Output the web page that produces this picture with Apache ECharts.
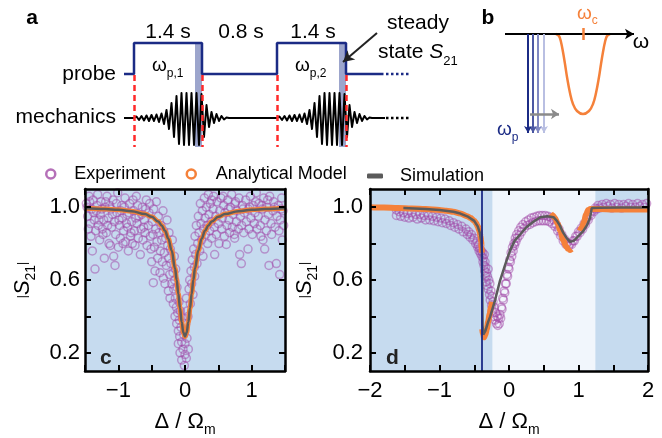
<!DOCTYPE html>
<html>
<head>
<meta charset="utf-8">
<script src="https://cdn.jsdelivr.net/npm/echarts@6/dist/echarts.min.js"></script>
<style>
html, body { margin: 0; padding: 0; background: #fff; }
#chart { width: 662px; height: 438px; }
</style>
</head>
<body>
<div id="chart"></div>
<script>
// ---------- data, panel c ----------
var cExp = [
  [-1.48,1.02],[-1.46,0.95],[-1.45,0.88],[-1.44,1.06],[-1.42,0.91],[-1.41,0.84],[-1.40,0.99],[-1.39,0.76],[-1.38,1.04],[-1.36,0.93],
  [-1.35,0.66],[-1.34,0.87],[-1.33,0.98],[-1.31,1.07],[-1.30,0.90],[-1.28,0.82],[-1.27,0.96],[-1.26,1.03],[-1.24,0.88],[-1.22,0.93],
  [-1.21,0.72],[-1.20,1.00],[-1.18,0.86],[-1.17,1.06],[-1.15,0.94],[-1.14,0.80],[-1.12,0.79],[-1.11,0.99],[-1.10,0.89],[-1.08,1.04],
  [-1.07,0.73],[-1.06,0.92],[-1.05,0.68],[-1.04,0.85],[-1.02,0.97],[-1.01,1.08],[-1.00,0.78],[-0.98,0.90],[-0.97,0.83],[-0.95,1.01],
  [-0.94,0.94],[-0.92,0.87],[-0.90,1.05],[-0.89,0.81],[-0.87,0.96],[-0.86,0.89],[-0.85,0.76],[-0.83,1.02],[-0.82,0.84],[-0.80,0.92],
  [-0.79,0.80],[-0.77,0.98],[-0.76,0.87],[-0.75,0.79],[-0.73,1.06],[-0.72,0.91],[-0.70,0.83],[-0.69,0.95],[-0.67,0.74],[-0.66,0.88],
  [-0.64,1.00],[-0.63,0.82],[-0.61,0.93],[-0.60,0.86],[-0.58,1.04],[-0.57,0.79],[-0.55,0.90],[-0.54,0.97],[-0.52,0.84],[-0.51,0.77],
  [-0.50,0.70],[-1.47,1.00],[-1.43,1.03],[-1.37,0.97],[-1.32,1.01],[-1.25,0.99],[-1.19,1.03],[-1.13,1.01],[-1.09,0.96],[-1.03,1.02],
  [-0.96,0.98],[-0.91,1.00],[-0.84,0.97],[-0.78,1.04],[-0.71,1.01],[-0.65,0.96],[-0.59,0.99],[-0.53,1.02],[-1.29,0.93],[-1.16,0.90],
  [-0.99,0.93],[-0.88,0.91],[-0.74,0.94],[-0.62,0.89],[-1.23,0.85],[-0.93,0.80],[-0.81,0.86],
  [-0.49,0.92],[-0.48,0.85],[-0.475,0.585],[-0.47,0.99],[-0.46,0.78],[-0.45,0.65],[-0.44,0.88],[-0.43,1.03],[-0.42,0.81],[-0.41,0.72],
  [-0.40,0.95],[-0.39,0.86],[-0.375,0.64],[-0.37,0.76],[-0.36,0.90],[-0.35,0.82],[-0.34,0.70],[-0.33,0.98],[-0.325,0.61],[-0.32,0.87],
  [-0.31,0.75],[-0.30,0.58],[-0.29,0.83],[-0.28,0.68],[-0.27,0.93],[-0.26,0.79],[-0.25,0.54],[-0.245,0.72],[-0.24,0.86],[-0.23,0.63],
  [-0.225,0.50],[-0.22,0.77],[-0.21,0.69],[-0.20,0.58],[-0.19,0.82],[-0.18,0.64],[-0.175,0.47],[-0.17,0.55],[-0.16,0.73],[-0.155,0.60],
  [-0.15,0.40],[-0.145,0.50],[-0.14,0.66],[-0.13,0.45],[-0.125,0.36],[-0.12,0.56],[-0.11,0.42],[-0.10,0.32],[-0.10,0.25],[-0.09,0.48],
  [-0.085,0.38],[-0.08,0.29],[-0.075,0.20],[-0.07,0.43],[-0.06,0.34],[-0.05,0.16],[-0.05,0.26],[-0.04,0.39],[-0.03,0.22],[-0.02,0.30],
  [-0.01,0.13],[0.00,0.25],[0.00,0.19],[0.01,0.36],[0.02,0.17],[0.02,0.50],[0.03,0.28],[0.035,0.43],[0.045,0.40],[0.05,0.22],
  [0.06,0.55],[0.07,0.60],[0.08,0.47],[0.09,0.65],[0.10,0.58],[0.11,0.71],[0.12,0.52],[0.13,0.77],[0.14,0.67],[0.145,0.62],
  [0.15,0.84],[0.16,0.74],[0.17,0.90],[0.18,0.69],[0.19,0.80],[0.20,0.95],[0.21,0.86],[0.22,0.76],[0.23,1.02],[0.24,0.91],
  [0.25,0.82],[0.26,0.98],[0.27,0.73],[0.28,0.88],[0.29,1.05],[0.30,0.94],[0.31,0.85],[0.32,1.00],[0.33,0.90],[0.34,0.80],
  [0.35,1.07],[0.36,0.96],[0.37,0.87],[0.38,1.02],[0.39,0.92],[0.40,0.83],[0.42,0.99],[0.43,1.06],[0.44,0.89],[0.445,0.74],
  [0.46,0.95],[0.47,0.85],[0.48,1.03],[0.50,0.91],[0.51,0.80],[0.52,0.98],[0.54,1.05],[0.55,0.88],[0.56,0.94],[0.58,1.01],
  [0.59,0.84],[0.60,0.97],[0.62,0.795],[0.63,0.90],[0.64,1.04],[0.66,0.93],[0.67,0.86],[0.68,1.00],[0.70,1.07],[0.71,0.89],
  [0.72,0.96],[0.74,0.85],[0.745,0.83],[0.75,1.02],[0.77,0.92],[0.78,0.98],[0.80,0.88],[0.81,1.05],[0.82,0.74],[0.83,0.95],
  [0.845,0.69],[0.85,0.90],[0.86,1.01],[0.88,0.86],[0.89,0.97],[0.91,1.04],[0.92,0.92],[0.945,0.77],[0.95,0.99],[0.96,0.88],
  [0.98,1.06],[0.99,0.94],[1.01,0.85],[1.02,1.01],[1.04,0.91],[1.05,0.97],[1.07,1.08],[1.08,0.88],[1.10,0.95],[1.11,1.02],
  [1.13,0.90],[1.14,0.84],[1.16,0.99],[1.17,0.82],[1.18,1.05],[1.195,0.77],[1.20,0.93],[1.22,0.87],[1.23,1.00],[1.25,0.96],
  [1.26,0.68],[1.27,1.06],[1.29,0.91],[1.30,0.85],[1.32,0.98],[1.33,1.03],[1.35,0.89],[1.37,0.69],[1.38,0.95],[1.40,1.01],
  [1.41,0.87],[1.42,0.63],[1.43,0.93],[1.45,1.05],[1.46,0.82],[1.47,0.98],[1.48,0.90],
  [0.40,1.04],[0.57,1.06],[0.65,0.99],[0.76,1.03],[0.87,0.99],[0.97,1.00],[1.06,1.03],[1.15,1.01],[1.24,1.04],[1.34,1.00],[1.44,0.99]
];
var cModel = [
  [-1.5,0.994],[-1.2,0.990],[-1.0,0.986],[-0.8,0.978],[-0.6,0.962],[-0.5,0.947],[-0.4,0.921],[-0.35,0.900],[-0.3,0.870],
  [-0.25,0.827],[-0.2,0.762],[-0.15,0.664],[-0.125,0.600],[-0.1,0.525],[-0.075,0.445],[-0.05,0.368],[-0.025,0.311],[0,0.290],
  [0.025,0.311],[0.05,0.368],[0.075,0.445],[0.1,0.525],[0.125,0.600],[0.15,0.664],[0.2,0.762],[0.25,0.827],[0.3,0.870],
  [0.35,0.900],[0.4,0.921],[0.5,0.947],[0.6,0.962],[0.8,0.978],[1.0,0.986],[1.2,0.990],[1.5,0.994]
];
var cSim = cModel; // simulation lies on top of the analytical curve
var cShade = [[-1.5, 1.5]];

// ---------- data, panel d ----------
var dExp = [
  [-1.62,0.985],[-1.62,0.955],[-1.58,0.975],[-1.56,0.95],[-1.52,0.97],[-1.50,0.945],[-1.46,0.965],[-1.44,0.94],[-1.40,0.97],[-1.38,0.945],
  [-1.34,0.96],[-1.32,0.935],[-1.28,0.96],[-1.26,0.94],[-1.22,0.955],[-1.20,0.93],[-1.16,0.955],[-1.14,0.93],[-1.10,0.95],[-1.08,0.925],
  [-1.04,0.945],[-1.02,0.92],[-0.98,0.94],[-0.96,0.915],[-0.92,0.935],[-0.90,0.91],[-0.86,0.925],[-0.84,0.90],[-0.80,0.915],[-0.78,0.89],
  [-0.74,0.905],[-0.72,0.88],[-0.68,0.895],[-0.66,0.865],[-0.62,0.88],[-0.60,0.85],[-0.58,0.865],[-0.56,0.835],[-0.54,0.85],[-0.52,0.82],
  [-0.50,0.83],[-0.48,0.80],[-0.46,0.81],[-0.45,0.78],[-0.44,0.79],[-0.43,0.76],[-0.42,0.775],[-0.41,0.745],[-0.40,0.76],[-0.39,0.73],
  [-0.38,0.75],[-0.375,0.70],[-0.37,0.72],[-0.36,0.68],[-0.355,0.74],[-0.35,0.65],[-0.345,0.70],[-0.34,0.62],[-0.335,0.67],[-0.33,0.59],
  [-0.325,0.64],[-0.32,0.57],[-0.31,0.62],[-0.30,0.66],[-0.30,0.55],[-0.29,0.60],[-0.28,0.52],[-0.275,0.58],[-0.27,0.49],[-0.26,0.54],
  [-0.25,0.46],[-0.245,0.51],[-0.24,0.43],[-0.23,0.48],[-0.22,0.40],[-0.21,0.45],[-0.20,0.38],[-0.19,0.42],[-0.18,0.36],[-0.17,0.40],
  [-0.16,0.35],[-0.15,0.39],[-0.14,0.36],[-0.13,0.41],[-0.12,0.39],[-0.11,0.45],[-0.10,0.44],[-0.09,0.50],[-0.08,0.49],[-0.07,0.54],
  [-0.06,0.53],[-0.05,0.58],[-0.04,0.58],[-0.03,0.63],[-0.02,0.62],[-0.01,0.67],[0.00,0.66],[0.01,0.71],[0.02,0.70],[0.03,0.75],
  [0.04,0.73],[0.05,0.78],[0.06,0.76],[0.07,0.80],[0.08,0.79],[0.09,0.83],[0.10,0.81],[0.11,0.85],[0.12,0.83],[0.14,0.87],
  [0.15,0.845],[0.17,0.89],[0.18,0.865],[0.20,0.905],[0.22,0.885],[0.24,0.92],[0.26,0.90],[0.28,0.93],[0.30,0.905],[0.32,0.94],
  [0.34,0.915],[0.36,0.945],[0.38,0.92],[0.40,0.95],[0.42,0.925],[0.44,0.955],[0.46,0.925],[0.48,0.955],[0.50,0.925],[0.52,0.955],
  [0.54,0.925],[0.56,0.95],[0.58,0.92],[0.60,0.945],[0.62,0.91],[0.64,0.93],[0.66,0.895],[0.68,0.905],[0.70,0.87],[0.72,0.88],
  [0.74,0.845],[0.76,0.85],[0.78,0.815],[0.80,0.825],[0.82,0.795],[0.84,0.805],[0.86,0.785],[0.88,0.80],[0.90,0.795],[0.92,0.815],
  [0.94,0.815],[0.96,0.84],[0.98,0.84],[1.00,0.865],[1.02,0.86],[1.04,0.885],[1.06,0.88],[1.08,0.91],[1.10,0.905],[1.12,0.935],
  [1.14,0.93],[1.16,0.96],[1.18,0.955],[1.20,0.98],[1.22,0.975],[1.24,0.995],[1.26,0.99],[1.28,1.01],[1.30,0.995],[1.34,1.015],
  [1.36,1.00],[1.40,1.02],[1.42,1.005],[1.46,1.015],[1.48,0.995],[1.52,1.02],[1.55,1.00],[1.58,1.015],[1.62,0.995],[1.65,1.015],
  [1.68,1.005],[1.72,1.02],[1.75,1.00],[1.78,1.015],[1.82,1.00],[1.85,1.02],[1.88,1.005],[1.92,1.015],[1.95,1.00],[1.98,1.02]
];
var dModel = [
  [-2.0,1.000],[-1.8,0.998],[-1.6,0.996],[-1.4,0.993],[-1.2,0.990],[-1.0,0.985],[-0.9,0.980],[-0.8,0.975],[-0.7,0.965],
  [-0.6,0.950],[-0.55,0.940],[-0.5,0.925],[-0.47,0.910],[-0.45,0.895],[-0.43,0.875],[-0.42,0.860],[-0.41,0.840],[-0.40,0.810],
  [-0.395,0.780],[-0.39,0.750],'-',
  [-0.385,0.330],[-0.375,0.300],[-0.36,0.285],[-0.34,0.300],[-0.32,0.330],[-0.30,0.370],[-0.28,0.410],[-0.26,0.450],[-0.245,0.480],'-',
  [0.60,0.965],[0.63,0.955],[0.66,0.940],[0.70,0.910],[0.74,0.870],[0.78,0.820],[0.82,0.785],[0.85,0.770],[0.88,0.765],[0.90,0.770],'-',
  [1.02,0.870],[1.05,0.890],[1.08,0.920],[1.11,0.960],[1.14,0.985],[1.17,0.990],[1.3,0.990],[1.5,0.988],[1.7,0.988],[2.0,0.988]
];
var dSim = [
  [-1.52,0.995],[-1.2,0.990],[-1.0,0.985],[-0.8,0.975],[-0.7,0.965],[-0.6,0.950],[-0.5,0.925],[-0.45,0.895],[-0.42,0.860],
  [-0.40,0.810],[-0.39,0.750],[-0.385,0.550],[-0.38,0.350],[-0.37,0.300],[-0.36,0.290],[-0.34,0.320],[-0.30,0.370],[-0.27,0.400],
  [-0.20,0.490],[-0.13,0.595],[-0.05,0.690],[0.014,0.760],[0.08,0.815],[0.16,0.850],[0.25,0.890],[0.35,0.920],[0.45,0.945],
  [0.55,0.950],[0.64,0.945],[0.69,0.925],[0.73,0.900],[0.78,0.860],[0.83,0.830],[0.88,0.810],[0.93,0.815],[0.97,0.830],
  [1.02,0.850],[1.07,0.870],[1.12,0.900],[1.165,0.940],[1.18,0.970],[1.19,0.995],[1.3,0.997],[1.6,0.998],[2.0,0.998]
];
var dShadeDark = [[-2, -0.235], [1.24, 2]];
var dShadeLight = [[-0.235, 1.24]];
var dProbeLine = -0.39;

// ---------- schematic a / b (drawn on a hidden pixel-like axis) ----------
var pulseEdges = [134, 202, 277, 346];   // rise, fall, rise, fall
var probeLow = 74, probeHigh = 43, mechBase = 118;
var mechWave = [   // [offset from pulse rise, amplitude]
  [0,0],[2.5,1.5],[5,-2],[7.5,2],[10,-2.5],[12.5,2.5],[15,-3],[17.5,3],[20,-3],[22.5,3.5],[25,-4],[27.5,4.5],
  [30,-6],[32.5,8],[35,-11],[37.5,15],[40,-19],[42.5,22],[45,-26],[47.5,25],[50,-27],[52.5,25],[55,-27],[57.5,25],
  [60,-27],[62.5,25],[65,-27],[67.5,24],[70,-19],[72.5,13],[75,-9],[77.5,6],[80,-5],[82.5,4],[85,-3],[87.5,2],
  [90,-1.5],[92.5,0.5],[95,0]
];
var bProbeX = [528, 533, 538, 544];
var bProbeColors = ['#1b2b85', '#4b57a3', '#8189c2', '#b9bfe2'];
var bCavity = [
  [556,34],[559,36],[561,42],[563,52],[565,64],[567,77],[570,93],[573,104],[577,111],[583,114],
  [589,111],[593,104],[596,93],[599,77],[601,64],[603,52],[605,42],[607,36],[610,34]
];

var FONT = "'Liberation Sans', Arial, sans-serif";
var navy = '#1b2b85';
var orange = '#f5813a';
var gray = '#5b5b5b';
var purple = 'rgba(160,68,165,0.62)';
var blueBg = '#c6dbef';
var lightBg = '#f1f6fc';

function minusFmt(v) {
  return v < 0 ? '\u2212' + Math.abs(v) : String(v);
}

var probeData = [[124, probeLow]];
pulseEdges.forEach(function (e, i) {
  if (i % 2 === 0) { probeData.push([e, probeLow]); probeData.push([e, probeHigh]); }
  else { probeData.push([e, probeHigh]); probeData.push([e, probeLow]); }
});
probeData.push([381, probeLow]);

var mechData = [[124, mechBase]];
[pulseEdges[0], pulseEdges[2]].forEach(function (e) {
  mechWave.forEach(function (p) { mechData.push([e + p[0], mechBase - p[1]]); });
});
mechData.push([385, mechBase]);

var redLines = pulseEdges.map(function (e) {
  return [{ coord: [e, probeLow + 1] }, { coord: [e, 147] }];
});
var readouts = [pulseEdges[1], pulseEdges[3]].map(function (e) {
  return [{ coord: [e - 7, probeHigh] }, { coord: [e, 147] }];
});
var bArrows = bProbeX.map(function (x, i) {
  return [{ coord: [x, 34], lineStyle: { color: bProbeColors[i] } }, { coord: [x, 133] }];
});

function frameAxis(extra) {
  var base = {
    type: 'value',
    z: 10,
    axisLine: { show: true, onZero: false, lineStyle: { color: '#000', width: 2.5 } },
    axisTick: { show: true, inside: true, length: 6, lineStyle: { color: '#000', width: 2 } },
    splitLine: { show: false },
    axisLabel: { show: false }
  };
  return Object.assign(base, extra);
}

var yTicks = [0.2, 0.4, 0.6, 0.8, 1.0];
var yLabels = [0.2, 0.6, 1.0];
var nameRichX = {
  d: { fontSize: 22, fontFamily: FONT, color: '#000' },
  s: { fontSize: 14, fontFamily: FONT, color: '#000', verticalAlign: 'bottom', lineHeight: 30 }
};
var nameRichY = {
  d: { fontSize: 22, fontFamily: FONT, color: '#000' },
  i: { fontSize: 22, fontFamily: FONT, color: '#000', fontStyle: 'italic' },
  s: { fontSize: 14, fontFamily: FONT, color: '#000', verticalAlign: 'bottom', lineHeight: 30 }
};

function xLabel(vals) {
  return { show: true, customValues: vals, formatter: minusFmt, color: '#000', fontSize: 22, fontFamily: FONT, margin: 9 };
}
function yLabel(margin) {
  return { show: true, customValues: yLabels, formatter: function (v) { return v.toFixed(1); },
    color: '#000', fontSize: 22, fontFamily: FONT, margin: margin };
}
function yTickAxis(extra) {
  return frameAxis(Object.assign({ min: 0.1, max: 1.1,
    axisTick: { show: true, inside: true, length: 6, customValues: yTicks, lineStyle: { color: '#000', width: 2 } } }, extra));
}

var option = {
  animation: false,
  backgroundColor: '#fff',
  textStyle: { fontFamily: FONT },
  grid: [
    { left: 85, top: 189, width: 200, height: 184 },
    { left: 370, top: 189, width: 278, height: 184 },
    { left: 0, top: 0, width: 662, height: 438 }
  ],
  legend: [
    {
      left: 40, top: 160, itemWidth: 9, itemHeight: 9,
      data: [{ name: 'Experiment', icon: 'circle', itemStyle: { color: '#fff', borderColor: '#a24ca6', borderWidth: 2.5 } }],
      formatter: '{t|{name}}',
      textStyle: { rich: { t: { fontSize: 18, fontFamily: FONT, color: '#000', padding: [0, 0, 0, 14] } } }
    },
    {
      left: 180.5, top: 160, itemWidth: 9, itemHeight: 9,
      data: [{ name: 'Analytical Model', icon: 'circle', itemStyle: { color: '#fff', borderColor: orange, borderWidth: 2.5 } }],
      formatter: '{t|{name}}',
      textStyle: { rich: { t: { fontSize: 18, fontFamily: FONT, color: '#000', padding: [0, 0, 0, 15] } } }
    },
    {
      left: 362, top: 162, itemWidth: 16, itemHeight: 5,
      data: [{ name: 'Simulation', icon: 'roundRect', itemStyle: { color: gray } }],
      formatter: '{t|{name}}',
      textStyle: { rich: { t: { fontSize: 18, fontFamily: FONT, color: '#000', padding: [0, 0, 0, 12] } } }
    }
  ],
  xAxis: [
    frameAxis({ gridIndex: 0, position: 'bottom', min: -1.5, max: 1.5, interval: 0.5, axisLabel: xLabel([-1, 0, 1]),
      name: '{d|\u0394 / \u03a9}{s|m}', nameLocation: 'middle', nameGap: 36, nameTextStyle: { rich: nameRichX } }),
    frameAxis({ gridIndex: 0, position: 'top', min: -1.5, max: 1.5, interval: 0.5 }),
    frameAxis({ gridIndex: 1, position: 'bottom', min: -2, max: 2, interval: 0.5, axisLabel: xLabel([-2, -1, 0, 1, 2]),
      name: '{d|\u0394 / \u03a9}{s|m}', nameLocation: 'middle', nameGap: 36, nameTextStyle: { rich: nameRichX } }),
    frameAxis({ gridIndex: 1, position: 'top', min: -2, max: 2, interval: 0.5 }),
    { type: 'value', gridIndex: 2, min: 0, max: 662, show: false }
  ],
  yAxis: [
    yTickAxis({ gridIndex: 0, position: 'left', axisLabel: yLabel(5),
      name: '|{i|S}{s|21}|', nameLocation: 'middle', nameGap: 47, nameTextStyle: { rich: nameRichY } }),
    yTickAxis({ gridIndex: 0, position: 'right' }),
    yTickAxis({ gridIndex: 1, position: 'left', axisLabel: yLabel(7),
      name: '|{i|S}{s|21}|', nameLocation: 'middle', nameGap: 50, nameTextStyle: { rich: nameRichY } }),
    yTickAxis({ gridIndex: 1, position: 'right' }),
    { type: 'value', gridIndex: 2, min: 0, max: 438, inverse: true, show: false }
  ],
  series: [
    // ----- panel c -----
    {
      type: 'scatter', xAxisIndex: 0, yAxisIndex: 0, data: [], silent: true, z: 1,
      markArea: { silent: true, itemStyle: { color: blueBg },
        data: cShade.map(function (r) { return [{ xAxis: r[0] }, { xAxis: r[1] }]; }) }
    },
    {
      name: 'Experiment', type: 'scatter', xAxisIndex: 0, yAxisIndex: 0, data: cExp, z: 2,
      symbol: 'circle', symbolSize: 8,
      itemStyle: { color: 'rgba(0,0,0,0)', borderColor: purple, borderWidth: 1.5 }
    },
    {
      name: 'Analytical Model', type: 'line', xAxisIndex: 0, yAxisIndex: 0, data: cModel, z: 3,
      showSymbol: false, smooth: 0.4, smoothMonotone: 'x', lineStyle: { color: orange, width: 5 }, itemStyle: { color: orange }
    },
    {
      name: 'Simulation', type: 'line', xAxisIndex: 0, yAxisIndex: 0, data: cSim, z: 4,
      showSymbol: false, smooth: 0.4, smoothMonotone: 'x', lineStyle: { color: gray, width: 2.5 }, itemStyle: { color: gray }
    },
    // ----- panel d -----
    {
      type: 'scatter', xAxisIndex: 2, yAxisIndex: 2, data: [], silent: true, z: 1,
      markArea: { silent: true,
        data: dShadeDark.map(function (r) { return [{ xAxis: r[0], itemStyle: { color: blueBg } }, { xAxis: r[1] }]; })
          .concat(dShadeLight.map(function (r) { return [{ xAxis: r[0], itemStyle: { color: lightBg } }, { xAxis: r[1] }]; })) }
    },
    {
      name: 'Experiment', type: 'scatter', xAxisIndex: 2, yAxisIndex: 2, data: dExp, z: 2,
      symbol: 'circle', symbolSize: 8,
      itemStyle: { color: 'rgba(0,0,0,0)', borderColor: purple, borderWidth: 1.5 }
    },
    {
      name: 'Analytical Model', type: 'line', xAxisIndex: 2, yAxisIndex: 2, data: dModel, z: 3, connectNulls: false,
      showSymbol: false, smooth: 0.3, smoothMonotone: 'x', lineStyle: { color: orange, width: 6 }, itemStyle: { color: orange }
    },
    {
      name: 'Simulation', type: 'line', xAxisIndex: 2, yAxisIndex: 2, data: dSim, z: 4,
      showSymbol: false, lineStyle: { color: gray, width: 2.5 }, itemStyle: { color: gray },
      markLine: { silent: true, symbol: 'none', label: { show: false },
        lineStyle: { color: navy, width: 1.8, type: 'solid' }, data: [{ xAxis: dProbeLine }] }
    },
    // ----- schematic a -----
    {
      type: 'line', xAxisIndex: 4, yAxisIndex: 4, data: [], silent: true, z: 1,
      markArea: { silent: true, itemStyle: { color: '#9ca5cc' }, data: readouts }
    },
    {
      type: 'line', xAxisIndex: 4, yAxisIndex: 4, data: [], silent: true, z: 2,
      markLine: { silent: true, symbol: 'none', label: { show: false },
        lineStyle: { color: '#ff2a2a', width: 2.5, type: [6, 4] }, data: redLines }
    },
    {
      type: 'line', xAxisIndex: 4, yAxisIndex: 4, data: probeData, silent: true, z: 3,
      showSymbol: false, lineStyle: { color: navy, width: 2.5 }
    },
    {
      type: 'line', xAxisIndex: 4, yAxisIndex: 4, data: [[381, probeLow], [411, probeLow]], silent: true, z: 3,
      showSymbol: false, lineStyle: { color: navy, width: 2.5, type: [2.5, 2.5] }
    },
    {
      type: 'line', xAxisIndex: 4, yAxisIndex: 4, data: mechData, silent: true, z: 3,
      showSymbol: false, smooth: false, lineStyle: { color: '#000', width: 2, join: 'round' }
    },
    {
      type: 'line', xAxisIndex: 4, yAxisIndex: 4, data: [[386, mechBase], [411, mechBase]], silent: true, z: 3,
      showSymbol: false, lineStyle: { color: '#000', width: 2.5, type: [2.5, 2.5] }
    },
    {
      type: 'line', xAxisIndex: 4, yAxisIndex: 4, data: [], silent: true, z: 3,
      markLine: { silent: true, symbol: ['none', 'arrow'], symbolSize: [9, 11], label: { show: false },
        lineStyle: { color: '#222', width: 2, type: 'solid' },
        data: [[{ coord: [377, 33] }, { coord: [343, 62] }]] }
    },
    // ----- schematic b -----
    {
      type: 'line', xAxisIndex: 4, yAxisIndex: 4, data: [], silent: true, z: 3,
      markLine: { silent: true, symbol: ['none', 'arrow'], symbolSize: [8, 9], label: { show: false },
        lineStyle: { color: '#000', width: 2, type: 'solid' },
        data: [[{ coord: [505, 34] }, { coord: [634, 34] }]] }
    },
    {
      type: 'line', xAxisIndex: 4, yAxisIndex: 4, data: [], silent: true, z: 2,
      markLine: { silent: true, symbol: ['none', 'arrow'], symbolSize: [6, 7], label: { show: false },
        lineStyle: { width: 2, type: 'solid' }, data: bArrows.slice().reverse() }
    },
    {
      type: 'line', xAxisIndex: 4, yAxisIndex: 4, data: [], silent: true, z: 3,
      markLine: { silent: true, symbol: ['none', 'arrow'], symbolSize: [8, 8], label: { show: false },
        lineStyle: { color: '#8a8a8a', width: 2.5, type: 'solid' },
        data: [[{ coord: [530, 114] }, { coord: [559, 114] }]] }
    },
    {
      type: 'line', xAxisIndex: 4, yAxisIndex: 4, data: bCavity, silent: true, z: 3,
      showSymbol: false, smooth: 0.4, lineStyle: { color: orange, width: 2.5 },
      markLine: { silent: true, symbol: 'none', label: { show: false },
        lineStyle: { color: orange, width: 2.5, type: 'solid' },
        data: [[{ coord: [583, 28] }, { coord: [583, 40] }]] }
    }
  ],
  graphic: [
    { type: 'text', x: 32, y: 18, style: { text: 'a', fontSize: 21, fontWeight: 'bold', fontFamily: FONT, fill: '#000', align: 'center', verticalAlign: 'middle' } },
    { type: 'text', x: 488, y: 18, style: { text: 'b', fontSize: 21, fontWeight: 'bold', fontFamily: FONT, fill: '#000', align: 'center', verticalAlign: 'middle' } },
    { type: 'text', x: 116, y: 74, style: { text: 'probe', fontSize: 21, fontFamily: FONT, fill: '#000', align: 'right', verticalAlign: 'middle' } },
    { type: 'text', x: 116, y: 117, style: { text: 'mechanics', fontSize: 21, fontFamily: FONT, fill: '#000', align: 'right', verticalAlign: 'middle' } },
    { type: 'text', x: 168, y: 32, style: { text: '1.4 s', fontSize: 21, fontFamily: FONT, fill: '#000', align: 'center', verticalAlign: 'middle' } },
    { type: 'text', x: 241, y: 32, style: { text: '0.8 s', fontSize: 21, fontFamily: FONT, fill: '#000', align: 'center', verticalAlign: 'middle' } },
    { type: 'text', x: 313, y: 32, style: { text: '1.4 s', fontSize: 21, fontFamily: FONT, fill: '#000', align: 'center', verticalAlign: 'middle' } },
    { type: 'text', x: 152, y: 66, style: { text: '{w|\u03c9}{s|p,1}', align: 'left', verticalAlign: 'middle',
      rich: { w: { fontSize: 19, fontFamily: FONT, fill: '#000' }, s: { fontSize: 12, fontFamily: FONT, fill: '#000', verticalAlign: 'bottom', lineHeight: 28 } } } },
    { type: 'text', x: 295, y: 66, style: { text: '{w|\u03c9}{s|p,2}', align: 'left', verticalAlign: 'middle',
      rich: { w: { fontSize: 19, fontFamily: FONT, fill: '#000' }, s: { fontSize: 12, fontFamily: FONT, fill: '#000', verticalAlign: 'bottom', lineHeight: 28 } } } },
    { type: 'text', x: 418, y: 23, style: { text: 'steady', fontSize: 21, fontFamily: FONT, fill: '#000', align: 'center', verticalAlign: 'middle' } },
    { type: 'text', x: 378, y: 52, style: { text: '{t|state }{i|S}{s|21}', align: 'left', verticalAlign: 'middle',
      rich: { t: { fontSize: 21, fontFamily: FONT, fill: '#000' }, i: { fontSize: 21, fontFamily: FONT, fill: '#000', fontStyle: 'italic' },
        s: { fontSize: 13, fontFamily: FONT, fill: '#000', verticalAlign: 'bottom', lineHeight: 32 } } } },
    { type: 'text', x: 641, y: 42, style: { text: '\u03c9', fontSize: 21, fontFamily: FONT, fill: '#000', align: 'center', verticalAlign: 'middle' } },
    { type: 'text', x: 577, y: 14, style: { text: '{w|\u03c9}{s|c}', align: 'left', verticalAlign: 'middle',
      rich: { w: { fontSize: 19, fontFamily: FONT, fill: orange }, s: { fontSize: 12, fontFamily: FONT, fill: orange, verticalAlign: 'bottom', lineHeight: 26 } } } },
    { type: 'text', x: 497, y: 130, style: { text: '{w|\u03c9}{s|p}', align: 'left', verticalAlign: 'middle',
      rich: { w: { fontSize: 19, fontFamily: FONT, fill: navy }, s: { fontSize: 12, fontFamily: FONT, fill: navy, verticalAlign: 'bottom', lineHeight: 28 } } } },
    { type: 'text', x: 100, y: 358, z: 20, style: { text: 'c', fontSize: 21, fontWeight: 'bold', fontFamily: FONT, fill: '#222', align: 'left', verticalAlign: 'middle' } },
    { type: 'text', x: 386, y: 358, z: 20, style: { text: 'd', fontSize: 21, fontWeight: 'bold', fontFamily: FONT, fill: '#222', align: 'left', verticalAlign: 'middle' } }
  ]
};

var chart = echarts.init(document.getElementById('chart'), null, { renderer: 'canvas' });
chart.setOption(option);
</script>
</body>
</html>
